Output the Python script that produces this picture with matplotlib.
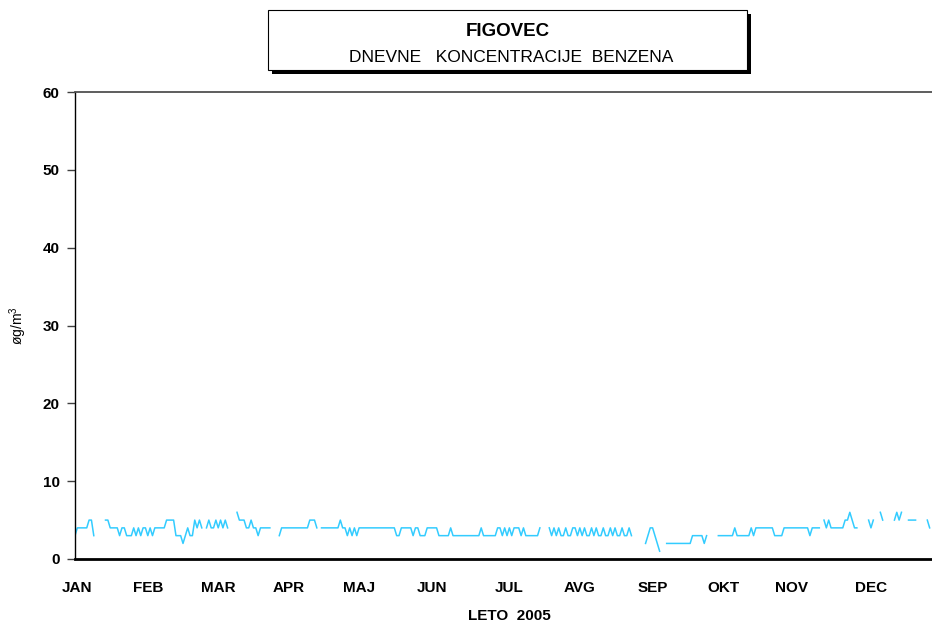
import numpy as np
import matplotlib
matplotlib.use("Agg")
import matplotlib.pyplot as plt
from matplotlib.patches import Rectangle

plt.rcParams['font.family'] = ['Liberation Sans', 'DejaVu Sans']

N = None
# daily benzene concentrations (µg/m3), 2005, None = missing
jan_feb = [3, 4, 4, 4, 4, 4, 5, 5, 3, N, N, N, N, 5, 5, 4, 4, 4, 4, 3,
           4, 4, 3, 3, 3, 4, 3, 4, 3, 4, 4, 3, 4, 3, 4, 4, 4, 4, 4, 5,
           5, 5, 5, 3, 3, 3, 2, 3, 4, 3, 3, 5, 4, 5, 4, N, 4, 5, 4, 4]
mar_apr = [5, 4, 5, 4, 5, 4, N, N, N, 6, 5, 5, 5, 4, 4, 5, 4, 4, 3, 4,
           4, 4, 4, 4, N, N, N, 3, 4, 4, 4, 4, 4, 4, 4, 4, 4, 4, 4, 4,
           5, 5, 5, 4, N, 4, 4, 4, 4, 4, 4, 4, 4, 5, 4, 4, 3, 4, 3, 4]
may_jun = [3, 4, 4, 4, 4, 4, 4, 4, 4, 4, 4, 4, 4, 4, 4, 4, 4, 3, 3, 4,
           4, 4, 4, 4, 3, 4, 4, 3, 3, 3, 4, 4, 4, 4, 4, 3, 3, 3, 3, 3,
           4, 3, 3, 3, 3, 3, 3, 3, 3, 3, 3, 3, 3, 4, 3, 3, 3, 3, 3, 3]
jul_aug = [4, 4, 3, 4, 3, 4, 3, 4, 4, 4, 3, 4, 3, 3, 3, 3, 3, 3, 4, N,
           N, N, 4, 3, 4, 3, 4, 3, 3, 4, 3, 3, 4, 4, 3, 4, 3, 4, 3, 3,
           4, 3, 4, 3, 3, 4, 3, 3, 4, 3, 4, 3, 3, 4, 3, 3, 4, 3, N, N]
sep_oct = [N, N, N, 2, 3, 4, 4, 3, 2, 1, N, N, 2, 2, 2, 2, 2, 2, 2, 2,
           2, 2, 2, 3, 3, 3, 3, 3, 2, 3, N, N, N, N, 3, 3, 3, 3, 3, 3,
           3, 4, 3, 3, 3, 3, 3, 3, 4, 3, 4, 4, 4, 4, 4, 4, 4, 4, 3, 3]
nov_dec = [3, 3, 4, 4, 4, 4, 4, 4, 4, 4, 4, 4, 4, 3, 4, 4, 4, 4, N, 5,
           4, 5, 4, 4, 4, 4, 4, 4, 5, 5, 6, 5, 4, 4, N, N, N, N, 5, 4,
           5, N, N, 6, 5, N, N, N, N, 5, 6, 5, 6, N, N, 5, 5, 5, 5, N,
           N, N, N, 5, 4]
values = jan_feb + mar_apr + may_jun + jul_aug + sep_oct + nov_dec
days = np.arange(len(values))
vals = np.array([np.nan if v is None else v for v in values], dtype=float)

months = ['JAN', 'FEB', 'MAR', 'APR', 'MAJ', 'JUN', 'JUL', 'AVG', 'SEP', 'OKT', 'NOV', 'DEC']
month_label_day = [1, 31, 61, 91, 121, 152, 185, 215, 246, 276, 305, 339]
yticks = [0, 10, 20, 30, 40, 50, 60]

W, H = 932, 625
fig = plt.figure(figsize=(W / 100, H / 100), dpi=100)
ax = fig.add_axes([75 / W, 1 - 559 / H, 857 / W, (559 - 92) / H])

ax.plot(days, vals, color='#33CCFF', lw=1.1)
ax.set_xlim(0, 365)
ax.set_ylim(0, 60)

ax.spines['right'].set_visible(False)
ax.spines['top'].set_color('#505050')
ax.spines['top'].set_linewidth(1.3)
ax.spines['bottom'].set_linewidth(2)
ax.spines['left'].set_linewidth(1)

ax.set_yticks(yticks)
ax.set_yticklabels([str(v) for v in yticks], fontsize=11, fontweight='bold')
ax.tick_params(axis='y', direction='out', length=6, width=1, pad=5, color='#404040')
ax.set_xticks(month_label_day)
ax.set_xticklabels(months, fontsize=11, fontweight='bold')
ax.tick_params(axis='x', length=0, pad=16)

fig.text(18 / W, 1 - 326 / H, 'øg/m$^\\mathregular{3}$', rotation=90, ha='center', va='center',
         fontsize=10)
fig.text(509 / W, 1 - 616 / H, 'LETO  2005', ha='center', va='center',
         fontsize=11, fontweight='bold')

# title box with shadow
bx0, by0, bx1, by1 = 268, 10, 747, 70
fig.patches.append(Rectangle(((bx0 + 4) / W, 1 - (by1 + 4) / H), (bx1 - bx0) / W, (by1 - by0) / H,
                             transform=fig.transFigure, facecolor='black', edgecolor='none', zorder=1))
fig.patches.append(Rectangle((bx0 / W, 1 - by1 / H), (bx1 - bx0) / W, (by1 - by0) / H,
                             transform=fig.transFigure, facecolor='white', edgecolor='black',
                             lw=0.8, zorder=2))
fig.text(508 / W, 1 - 31 / H, 'FIGOVEC', ha='center', va='center', fontsize=13.5,
         fontweight='bold', zorder=3)
fig.text(511 / W, 1 - 57 / H, 'DNEVNE   KONCENTRACIJE  BENZENA', ha='center', va='center',
         fontsize=12.5, zorder=3)

fig.savefig('out.png', dpi=100)
